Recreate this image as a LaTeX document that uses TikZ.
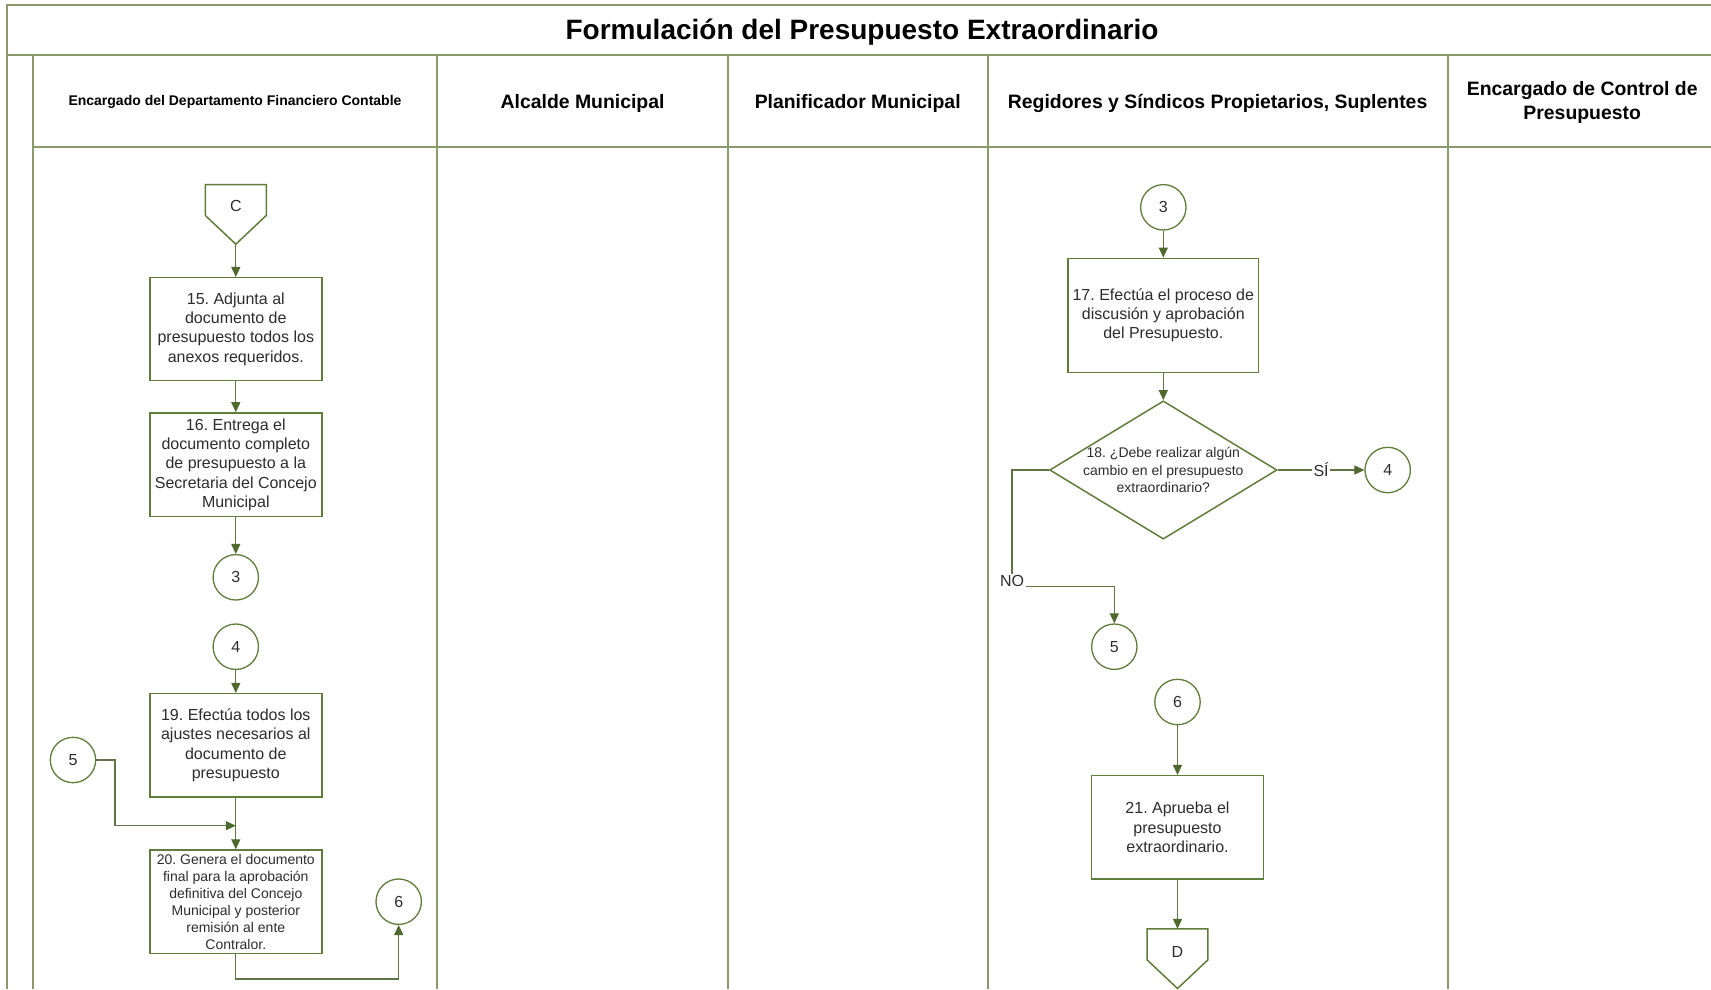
\documentclass[tikz,border=0pt]{standalone}
\usepackage{fontspec}
\setmainfont{Liberation Sans}
\usetikzlibrary{arrows.meta,shapes.geometric,calc}
\frenchspacing

\definecolor{framec}{RGB}{138,154,106}
\definecolor{shapec}{RGB}{96,125,60}
\definecolor{wirec}{RGB}{96,116,72}
\definecolor{tipc}{RGB}{78,104,46}
\definecolor{inkc}{RGB}{45,45,45}

\begin{document}
\begin{tikzpicture}[x=1pt,y=-1pt,
  lane/.style={draw=framec,line width=2pt},
  hdr/.style={font=\bfseries\fontsize{19.4}{23.5}\selectfont,align=center,text=black},
  stepbox/.style={draw=shapec,line width=1.5pt,fill=white,text=inkc,align=center,
    inner sep=0pt,minimum width=172pt,minimum height=103.3pt,
    font=\fontsize{16}{19.3}\selectfont},
  small/.style={font=\fontsize{14}{17}\selectfont},
  conn/.style={circle,draw=shapec,line width=1.3pt,fill=white,text=inkc,
    minimum size=45.4pt,inner sep=0pt,font=\fontsize{16}{19}\selectfont},
  offpage/.style={draw=none,inner sep=0pt,minimum width=60.5pt,minimum height=59.3pt},
  outline/.style={draw=shapec,line width=1.5pt,fill=white},
  txt/.style={text=inkc,font=\fontsize{16}{19}\selectfont,inner sep=0pt},
  tag/.style={fill=white,text=inkc,font=\fontsize{16}{19}\selectfont,inner sep=1.5pt},
  arr/.style={draw=wirec,line width=1.2pt,-{Triangle[length=10pt,width=9pt,color=tipc]}},
]
\useasboundingbox (0,0) rectangle (1711,989);
\clip (0,0) rectangle (1711,989);

% swimlane frame
\draw[lane] (7,989) -- (7,5) -- (1711,5);
\draw[lane] (7,55) -- (1711,55);
\draw[lane] (33,55) -- (33,989);
\draw[lane] (33,146.5) -- (1711,146.5);
\foreach \x in {437.3,727.8,987.5,1447.7} \draw[lane] (\x,55) -- (\x,989);

% title and lane headers
\node[font=\bfseries\fontsize{28}{32}\selectfont] (title) at (862,32.3)
  {Formulación del Presupuesto Extraordinario};
\node[hdr,font=\bfseries\fontsize{14}{17}\selectfont] (h1) at (235,101.8)
  {Encargado del Departamento Financiero Contable};
\node[hdr] (h2) at (582.6,103) {Alcalde Municipal};
\node[hdr] (h3) at (857.7,103) {Planificador Municipal};
\node[hdr] (h4) at (1217.6,103) {Regidores y Síndicos Propietarios, Suplentes};
\node[hdr] (h5) at (1582.2,102.6) {Encargado de Control de\\Presupuesto};

% ---- lane 1: financial department ----
\node[offpage] (C) at (235.8,214.35) {};
\draw[outline] (C.north west) -- (C.north east) -- ($(C.north east)+(0,31)$)
  -- (C.south) -- ($(C.north west)+(0,31)$) -- cycle;
\node[txt,yshift=8.3pt] (Ct) at (C.center) {C};

\node[stepbox,minimum height=103pt] (b15) at (235.8,329.2)
  {15. Adjunta al\\documento de\\presupuesto todos los\\anexos requeridos.};
\node[stepbox,minimum height=103.7pt] (b16) at (235.8,464.8)
  {16. Entrega el\\documento completo\\de presupuesto a la\\Secretaria del Concejo\\Municipal};
\node[conn] (c3L) at (235.8,577.3) {3};
\node[conn] (c4L) at (235.8,646.7) {4};
\node[stepbox] (b19) at (235.8,745.3)
  {19. Efectúa todos los\\ajustes necesarios al\\documento de\\presupuesto};
\node[stepbox,small] (b20) at (235.8,901.7)
  {20. Genera el documento\\final para la aprobación\\definitiva del Concejo\\Municipal y posterior\\remisión al ente\\Contralor.};
\node[conn] (c5L) at (73,760) {5};
\node[conn] (c6L) at (398.7,901.7) {6};

\coordinate (k5) at (115,825.7);
\coordinate (j1) at (235.8,825.7);
\coordinate (k6) at (235.8,979);

\draw[arr] (C.south) -- (b15.north);
\draw[arr] (b15.south) -- (b16.north);
\draw[arr] (b16.south) -- (c3L.north);
\draw[arr] (c4L.south) -- (b19.north);
\draw[arr] (b19.south) -- (b20.north);
\draw[arr] (c5L.east) -| (k5) -- (j1);
\draw[arr] (b20.south) -- (k6) -| (c6L.south);

% ---- lane 4: council members ----
\node[conn] (c3R) at (1163.3,207.3) {3};
\node[stepbox,minimum width=190.7pt,minimum height=114pt] (b17) at (1163.3,315.3)
  {17. Efectúa el proceso de\\discusión y aprobación\\del Presupuesto.};
\node[diamond,draw=shapec,line width=1.5pt,fill=white,inner sep=0pt,
  minimum width=227.4pt,minimum height=138.3pt] (dia) at (1163.3,470) {};
\node[text=inkc,align=center,font=\fontsize{14}{17.5}\selectfont,inner sep=0pt] (dtxt)
  at (dia.center) {18. ¿Debe realizar algún\\cambio en el presupuesto\\extraordinario?};
\node[conn] (c4R) at (1387.7,470) {4};
\node[conn] (c5R) at (1114.3,646.7) {5};
\node[conn] (c6R) at (1177.5,702) {6};
\node[stepbox] (b21) at (1177.5,827.3)
  {21. Aprueba el\\presupuesto\\extraordinario.};
\node[offpage] (D) at (1177.5,958.65) {};
\draw[outline] (D.north west) -- (D.north east) -- ($(D.north east)+(0,31)$)
  -- (D.south) -- ($(D.north west)+(0,31)$) -- cycle;
\node[txt,yshift=7pt] (Dt) at (D.center) {D};

\coordinate (n1) at (1012,586.7);

\draw[arr] (c3R.south) -- (b17.north);
\draw[arr] (b17.south) -- (dia.north);
\draw[arr] (dia.east) -- (c4R.west) node[tag,midway] (lsi) {SÍ};
\draw[arr] (dia.west) -| (n1) -| (c5R.north);
\node[tag,yshift=6pt] (lno) at (n1) {NO};
\draw[arr] (c6R.south) -- (b21.north);
\draw[arr] (b21.south) -- (D.north);
\end{tikzpicture}
\end{document}
